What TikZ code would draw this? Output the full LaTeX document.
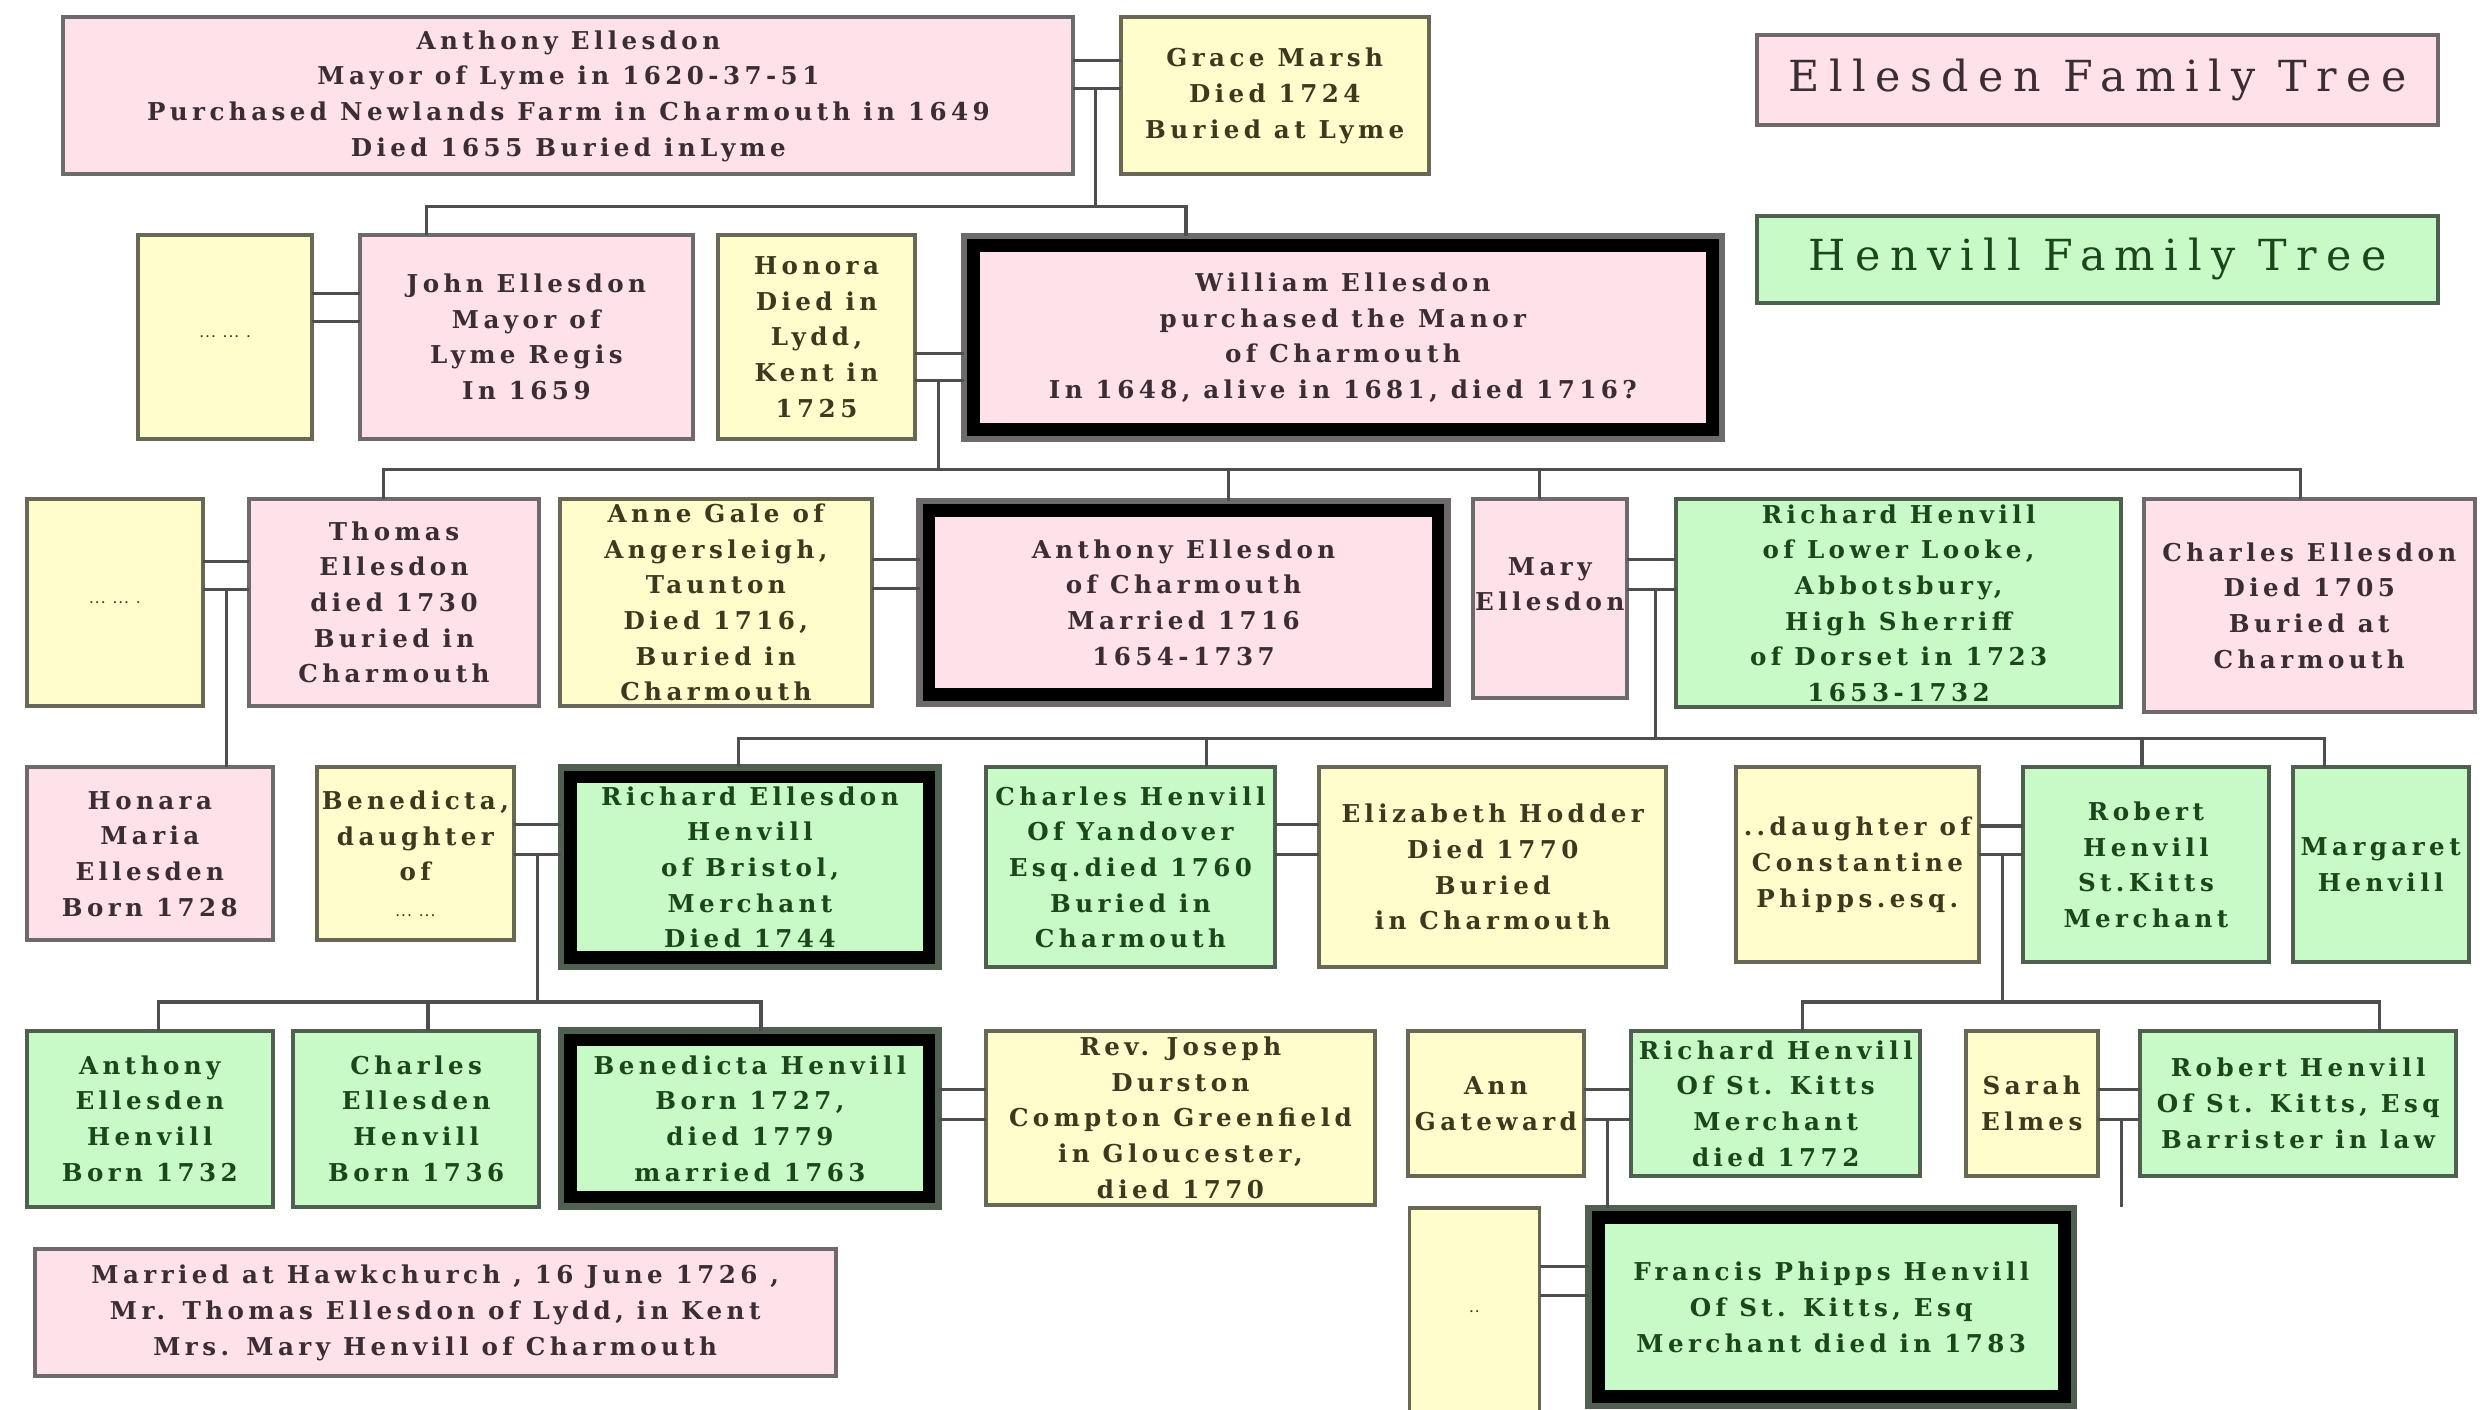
\documentclass[tikz,border=0pt]{standalone}
\usepackage{fontspec}
\newfontfamily\bxfont{DejaVu Serif}[LetterSpace=18]
\newfontfamily\ttlfont{DejaVu Serif}[LetterSpace=22]
\definecolor{pinkF}{RGB}{255,226,233}
\definecolor{pinkD}{RGB}{110,105,108}
\definecolor{pinkT}{RGB}{58,46,52}
\definecolor{yelF}{RGB}{255,253,204}
\definecolor{yelD}{RGB}{104,104,84}
\definecolor{yelT}{RGB}{60,58,30}
\definecolor{grnF}{RGB}{200,250,200}
\definecolor{grnD}{RGB}{80,96,80}
\definecolor{grnT}{RGB}{28,70,28}
\definecolor{connC}{RGB}{78,78,78}
\tikzset{
  base/.style={rectangle, inner sep=0pt, outer sep=0pt, line width=2.5},
  pinkbox/.style={base, fill=pinkF, draw=pinkD},
  yellowbox/.style={base, fill=yelF, draw=yelD},
  greenbox/.style={base, fill=grnF, draw=grnD},
  txt/.style={align=center, inner sep=0pt, font=\bxfont\bfseries\fontsize{15.5}{22.5}\selectfont},
  pinktxt/.style={txt, text=pinkT},
  yellowtxt/.style={txt, text=yelT},
  greentxt/.style={txt, text=grnT},
  tinytxt/.style={align=center, inner sep=0pt, text=yelT, font=\bxfont\bfseries\fontsize{7}{9}\selectfont},
  ttl/.style={inner sep=0pt, font=\ttlfont\fontsize{27}{30}\selectfont},
  conn/.style={draw=connC, line width=2},
  thickframe/.style={draw=black, line width=8},
}
% name, colour, x1, y1, x2, y2, text
\newcommand\fambox[7]{%
  \node[#2box, minimum width={#5-#3}, minimum height={#6-#4}] (#1) at ({(#3+#5)/2},{(#4+#6)/2}) {};
  \node[#2txt] (#1t) at (#1.center) {#7};}
\newcommand\famboxT[7]{%
  \node[#2box, line width=4, minimum width={#5-#3}, minimum height={#6-#4}] (#1) at ({(#3+#5)/2},{(#4+#6)/2}) {};
  \draw[thickframe] ([shift={(6,6)}]#1.north west) rectangle ([shift={(-6,-6)}]#1.south east);
  \node[#2txt] (#1t) at (#1.center) {#7};}
% marriage double line: left node, right node, y1, y2
\newcommand\marr[4]{%
  \draw[conn] (#1.east |- 0,#3) -- (#2.west |- 0,#3);
  \draw[conn] (#1.east |- 0,#4) -- (#2.west |- 0,#4);}
\begin{document}
\begin{tikzpicture}[x=1pt,y=-1pt]
\fill[white] (0,0) rectangle (1568,889);
\useasboundingbox (0,0) rectangle (1568,889);

% ---------- connector junctions ----------
\coordinate (m0) at (691,56);   \coordinate (b0m) at (691,130);
\coordinate (b0l) at (269,130); \coordinate (b0r) at (748,130);
\coordinate (m1) at (592,240);  \coordinate (b1m) at (592,296);
\coordinate (b1a) at (242,296); \coordinate (b1b) at (775,296);
\coordinate (b1c) at (971,296); \coordinate (b1d) at (1451,296);
\coordinate (m2) at (143,372);
\coordinate (m3) at (1044,372); \coordinate (b3m) at (1044,466);
\coordinate (b3a) at (466,466); \coordinate (b3b) at (761,466);
\coordinate (b3c) at (1351,466); \coordinate (b3d) at (1466,466);
\coordinate (m4) at (339,539);  \coordinate (b4m) at (339,632);
\coordinate (b4a) at (100,632); \coordinate (b4b) at (270,632); \coordinate (b4c) at (480,632);
\coordinate (m5) at (1263,539); \coordinate (b5m) at (1263,632);
\coordinate (b5a) at (1137,632); \coordinate (b5b) at (1501,632);
\coordinate (m6) at (1014,706);
\coordinate (m7) at (1338,706); \coordinate (e7) at (1338,761);

% ---------- row 0 ----------
\fambox{anth1}{pink}{40}{11}{677}{110}{Anthony Ellesdon\\Mayor of Lyme in 1620-37-51\\Purchased Newlands Farm in Charmouth in 1649\\Died 1655 Buried inLyme}
\fambox{grace}{yellow}{707}{11}{901}{110}{Grace Marsh\\Died 1724\\Buried at Lyme}
\node[pinkbox, minimum width=430, minimum height=57] (tE) at (1323,50.5) {};
\node[ttl, text=pinkT] (tEt) at (tE.center) {Ellesden Family Tree};
\node[greenbox, minimum width=430, minimum height=55] (tH) at (1323,163.5) {};
\node[ttl, text=grnT] (tHt) at (tH.center) {Henvill Family Tree};

% ---------- row 1 ----------
\fambox{dots1}{yellow}{87}{148}{197}{277}{}
\node[tinytxt] (dots1t) at (dots1.center) {... ... .};
\fambox{john}{pink}{227}{148}{437}{277}{John Ellesdon\\Mayor of\\Lyme Regis\\In 1659}
\fambox{honora}{yellow}{453}{148}{577}{277}{Honora\\Died in\\Lydd,\\Kent in\\1725}
\famboxT{william}{pink}{608}{149}{1086}{277}{William Ellesdon\\purchased the Manor\\of Charmouth\\In 1648, alive in 1681, died 1716?}

% ---------- row 2 ----------
\fambox{dots2}{yellow}{17}{315}{128}{445}{}
\node[tinytxt] (dots2t) at (dots2.center) {... ... .};
\fambox{thomas}{pink}{157}{315}{340}{445}{Thomas\\Ellesdon\\died 1730\\Buried in\\Charmouth}
\fambox{anne}{yellow}{353}{315}{550}{445}{Anne Gale of\\Angersleigh,\\Taunton\\Died 1716,\\Buried in\\Charmouth}
\famboxT{anth2}{pink}{580}{316}{913}{444}{Anthony Ellesdon\\of Charmouth\\Married 1716\\1654-1737}
\fambox{mary}{pink}{929}{315}{1026}{440}{}
\node[pinktxt] (maryt) at ([yshift=9pt]mary.center) {Mary\\Ellesdon};
\fambox{richH}{green}{1057}{315}{1338}{446}{Richard Henvill\\of Lower Looke,\\Abbotsbury,\\High Sherriff\\of Dorset in 1723\\1653-1732}
\fambox{charlesE}{pink}{1352}{315}{1561}{449}{Charles Ellesdon\\Died 1705\\Buried at\\Charmouth}

% ---------- row 3 ----------
\fambox{honara}{pink}{17}{484}{172}{593}{Honara\\Maria\\Ellesden\\Born 1728}
\fambox{ben1}{yellow}{200}{484}{324}{593}{Benedicta,\\daughter\\of\\{\fontsize{7}{9}\selectfont ... ...}}
\famboxT{richEH}{green}{354}{484}{592}{610}{Richard Ellesdon\\Henvill\\of Bristol,\\Merchant\\Died 1744}
\fambox{charlesH}{green}{622}{484}{804}{610}{Charles Henvill\\Of Yandover\\Esq.died 1760\\Buried in\\Charmouth}
\fambox{elizabeth}{yellow}{832}{484}{1051}{610}{Elizabeth Hodder\\Died 1770\\Buried\\in Charmouth}
\fambox{daughterC}{yellow}{1095}{484}{1248}{607}{..daughter of\\Constantine\\Phipps.esq.}
\fambox{robertH}{green}{1276}{484}{1431}{607}{Robert\\Henvill\\St.Kitts\\Merchant}
\fambox{margaret}{green}{1446}{484}{1557}{607}{Margaret\\Henvill}

% ---------- row 4 ----------
\fambox{anthEH}{green}{17}{650}{172}{761}{Anthony\\Ellesden\\Henvill\\Born 1732}
\fambox{charlesEH}{green}{185}{650}{340}{761}{Charles\\Ellesden\\Henvill\\Born 1736}
\famboxT{benH}{green}{354}{650}{592}{761}{Benedicta Henvill\\Born 1727,\\died 1779\\married 1763}
\fambox{rev}{yellow}{622}{650}{867}{760}{Rev. Joseph\\Durston\\Compton Greenfield\\in Gloucester,\\died 1770}
\fambox{annG}{yellow}{888}{650}{999}{742}{Ann\\Gateward}
\fambox{richSK}{green}{1029}{650}{1211}{742}{Richard Henvill\\Of St. Kitts\\Merchant\\died 1772}
\fambox{sarah}{yellow}{1240}{650}{1323}{742}{Sarah\\Elmes}
\fambox{robertSK}{green}{1350}{650}{1549}{742}{Robert Henvill\\Of St. Kitts, Esq\\Barrister in law}

% ---------- row 5 ----------
\fambox{married}{pink}{22}{788}{527}{868}{Married at Hawkchurch , 16 June 1726 ,\\Mr. Thomas Ellesdon of Lydd, in Kent\\Mrs. Mary Henvill of Charmouth}
\fambox{dots3}{yellow}{889}{762}{971}{892}{}
\node[tinytxt] (dots3t) at (dots3.center) {..};
\famboxT{francis}{green}{1002}{762}{1308}{887}{Francis Phipps Henvill\\Of St. Kitts, Esq\\Merchant died in 1783}

% ---------- marriages and descents ----------
\marr{anth1}{grace}{38}{56}
\draw[conn] (m0) -- (b0m);
\draw[conn] (john.north -| b0l) -- (b0l) -- (b0r) -- (william.north -| b0r);

\marr{dots1}{john}{185}{203}
\marr{honora}{william}{223}{240}
\draw[conn] (m1) -- (b1m);
\draw[conn] (thomas.north -| b1a) -- (b1a) -- (b1d) -- (charlesE.north -| b1d);
\draw[conn] (b1b) -- (anth2.north -| b1b);
\draw[conn] (b1c) -- (mary.north -| b1c);

\marr{dots2}{thomas}{354}{372}
\draw[conn] (m2) -- (honara.north -| m2);
\marr{anne}{anth2}{353}{371}
\marr{mary}{richH}{353}{372}
\draw[conn] (m3) -- (b3m);
\draw[conn] (richEH.north -| b3a) -- (b3a) -- (b3d) -- (margaret.north -| b3d);
\draw[conn] (b3b) -- (charlesH.north -| b3b);
\draw[conn] (b3c) -- (robertH.north -| b3c);

\marr{ben1}{richEH}{520}{539}
\draw[conn] (m4) -- (b4m);
\draw[conn] (anthEH.north -| b4a) -- (b4a) -- (b4c) -- (benH.north -| b4c);
\draw[conn] (b4b) -- (charlesEH.north -| b4b);
\marr{charlesH}{elizabeth}{520}{539}
\marr{daughterC}{robertH}{521}{539}
\draw[conn] (m5) -- (b5m);
\draw[conn] (richSK.north -| b5a) -- (b5a) -- (b5b) -- (robertSK.north -| b5b);

\marr{benH}{rev}{687}{706}
\marr{annG}{richSK}{687}{706}
\draw[conn] (m6) -- (francis.north -| m6);
\marr{sarah}{robertSK}{687}{706}
\draw[conn] (m7) -- (e7);
\marr{dots3}{francis}{799}{817}
\end{tikzpicture}
\end{document}
